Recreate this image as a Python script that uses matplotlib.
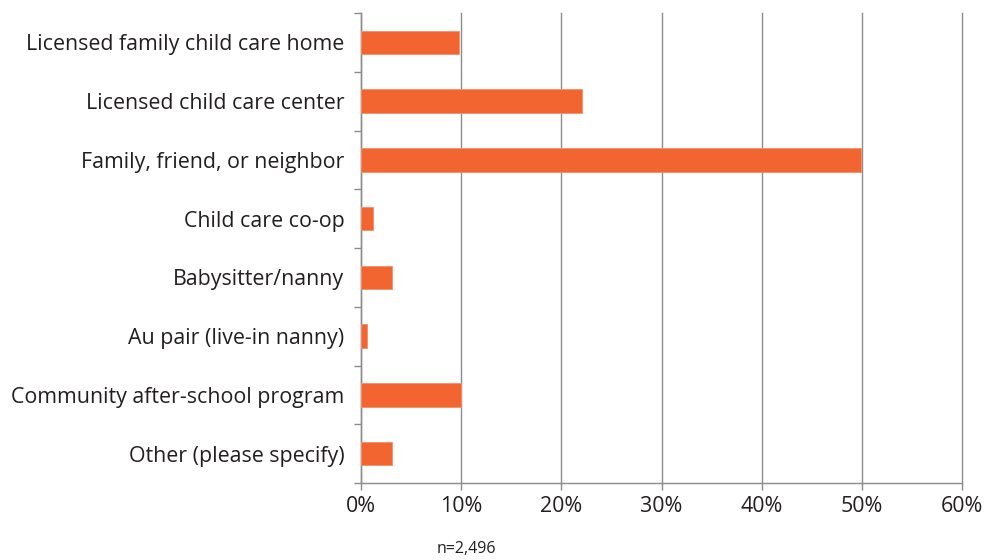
import numpy as np
import matplotlib.pyplot as plt

# categories top to bottom and share of respondents (%)
categories = ['Licensed family child care home', 'Licensed child care center',
              'Family, friend, or neighbor', 'Child care co-op', 'Babysitter/nanny',
              'Au pair (live-in nanny)', 'Community after-school program',
              'Other (please specify)']
values = [9.8, 22.1, 49.9, 1.2, 3.1, 0.6, 10.0, 3.1]
xticks = [0, 10, 20, 30, 40, 50, 60]

plt.rcParams['font.family'] = ['Open Sans', 'DejaVu Sans']

fig = plt.figure(figsize=(9.87, 5.6), dpi=100)
ax = fig.add_axes([361 / 987, 1 - 483 / 560, 601 / 987, 470 / 560])

y = np.arange(len(categories))
ax.barh(y, values, height=0.4, color='#F26531', edgecolor='#F4906A', linewidth=0.6, zorder=3)
ax.set_ylim(len(categories) - 0.5, -0.5)
ax.set_xlim(0, 60)

# category ticks sit between the bars
ax.set_yticks(np.arange(-0.5, len(categories), 1))
ax.set_yticklabels([])
ax.set_yticks(y, minor=True)
ax.set_yticklabels(categories, minor=True, fontsize=15.4, color='#231F20')
ax.tick_params(axis='y', which='minor', length=0, pad=12)
ax.tick_params(axis='y', which='major', length=5, color='#8C8C8C', width=1)

ax.set_xticks(xticks)
ax.set_xticklabels([str(t) + '%' for t in xticks], fontsize=15.4, color='#231F20')
ax.tick_params(axis='x', length=5, color='#8C8C8C', width=1, pad=4)
ax.grid(axis='x', color='#8C8C8C', linewidth=1, zorder=0)
for gl in ax.get_xgridlines():
    gl.set_clip_on(False)

for s in ['top', 'right']:
    ax.spines[s].set_visible(False)
for s in ['left', 'bottom']:
    ax.spines[s].set_color('#8C8C8C')
    ax.spines[s].set_linewidth(1)

fig.text(466 / 987, 1 - 549 / 560, 'n=2,496', ha='center', va='center', fontsize=11.5, color='#231F20')

plt.savefig('out.png', dpi=100)
